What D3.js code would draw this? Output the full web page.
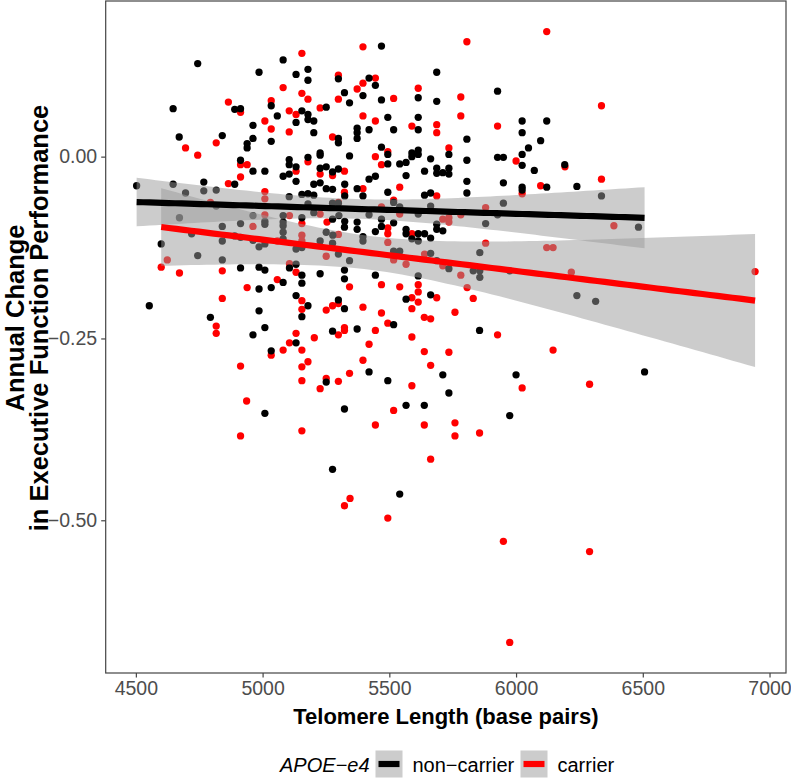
<!DOCTYPE html>
<html><head><meta charset="utf-8">
<script src="https://cdn.jsdelivr.net/npm/d3@7"></script>
<style>body{margin:0;background:#fff} text{font-family:"Liberation Sans",Arial,Helvetica,sans-serif}</style>
</head><body><svg id="c" width="791" height="778"></svg>
<script>
// APOE-e4 non-carriers: [telomere length (bp), annual change]
const nonCarrier = [
[5081,0.133],[4744,0.128],[4986,0.116],[5132,0.113],[5179,0.120],[5179,0.105],[5299,0.107],[5323,0.088],[5034,0.070],[5343,0.074],
[4647,0.066],[4890,0.065],[4913,0.066],[5155,0.063],[5179,0.058],[5179,0.051],[5202,0.049],[5251,0.068],[5058,0.056],[5132,0.047],
[4962,0.043],[5202,0.033],[5299,0.025],[5299,0.019],[4671,0.027],[4841,0.029],[4962,0.025],[4939,0.018],[4939,0.012],[5034,0.021],
[5227,0.005],[5227,0.002],[5343,0.001],[4913,-0.005],[4962,-0.020],[5009,-0.020],[5105,-0.004],[5105,-0.011],[5132,-0.014],[5179,-0.001],
[5081,-0.027],[5105,-0.024],[5132,-0.034],[5227,-0.016],[5251,-0.014],[5276,-0.021],[5299,-0.017],[5202,-0.038],[5227,-0.036],[5251,-0.044],
[5276,-0.045],[4890,-0.038],[4768,-0.035],[4647,-0.038],[4503,-0.040],[4817,-0.046],[4768,-0.047],[4696,-0.050],[5105,-0.055],[5155,-0.052],
[5179,-0.051],[5202,-0.053],[5469,0.152],[5687,0.116],[5420,0.108],[5445,0.098],[5396,0.084],[5469,0.078],[5614,0.081],[5687,0.076],
[5927,0.090],[5494,0.054],[5614,0.054],[5614,0.037],[5373,0.039],[5373,0.033],[5373,0.025],[5420,0.037],[5517,0.037],[5806,0.024],
[6024,0.049],[6121,0.049],[6024,0.033],[6097,0.022],[6049,0.012],[6024,0.003],[5927,-0.001],[5950,-0.001],[6024,-0.012],[6072,-0.019],
[6192,-0.011],[5469,0.013],[5494,0.003],[5494,-0.010],[5541,-0.010],[5566,-0.008],[5589,0.005],[5614,0.009],[5589,0.000],[5614,0.003],
[5663,-0.003],[5735,0.003],[5806,-0.005],[5566,-0.026],[5639,-0.020],[5687,-0.016],[5687,-0.023],[5711,-0.022],[5735,-0.016],[5735,-0.024],
[5420,-0.031],[5445,-0.027],[5324,-0.038],[5324,-0.054],[5373,-0.044],[5396,-0.054],[5494,-0.049],[5639,-0.053],[5663,-0.050],[5806,-0.034],
[5806,-0.050],[5950,-0.036],[6024,-0.042],[6024,-0.046],[6121,-0.042],[6240,-0.041],[6337,-0.054],[4817,-0.068],[4672,-0.084],[4962,-0.081],
[5009,-0.089],[5009,-0.093],[5081,-0.081],[5081,-0.090],[5081,-0.095],[5179,-0.065],[5202,-0.077],[5276,-0.064],[5299,-0.064],[5155,-0.084],
[5276,-0.086],[5323,-0.097],[5081,-0.104],[4841,-0.096],[4720,-0.106],[4841,-0.116],[4890,-0.109],[4913,-0.111],[4962,-0.115],[5009,-0.120],
[4986,-0.124],[5081,-0.113],[5132,-0.127],[5155,-0.125],[5227,-0.116],[5251,-0.104],[5276,-0.119],[5299,-0.134],[5343,-0.143],[4600,-0.120],
[4744,-0.136],[4841,-0.142],[4913,-0.153],[4986,-0.152],[5009,-0.156],[5132,-0.148],[5106,-0.153],[5155,-0.163],[5227,-0.161],[5323,-0.156],
[5323,-0.168],[5081,-0.173],[5155,-0.174],[4986,-0.182],[5034,-0.180],[5132,-0.191],[4553,-0.205],[5179,-0.205],[5155,-0.220],[4986,-0.212],
[5299,-0.197],[5323,-0.209],[4794,-0.221],[5009,-0.235],[4962,-0.245],[5276,-0.240],[5132,-0.256],[5034,-0.267],[5251,-0.310],[5517,-0.063],
[5541,-0.069],[5663,-0.068],[5614,-0.079],[5420,-0.080],[5301,-0.081],[5469,-0.086],[5927,-0.080],[5950,-0.064],[5880,-0.092],[5324,-0.089],
[5373,-0.090],[5373,-0.100],[5445,-0.103],[5469,-0.096],[5517,-0.091],[5566,-0.100],[5566,-0.106],[5614,-0.106],[5639,-0.106],[5589,-0.113],
[5614,-0.116],[5663,-0.112],[5687,-0.093],[5687,-0.100],[5711,-0.102],[5396,-0.110],[5396,-0.116],[5277,-0.108],[5517,-0.130],[5541,-0.130],
[5663,-0.133],[5687,-0.143],[5735,-0.154],[5831,-0.157],[5857,-0.157],[5857,-0.166],[5857,-0.132],[5975,-0.157],[6240,-0.191],[5445,-0.163],
[5614,-0.164],[5566,-0.196],[5663,-0.190],[5517,-0.231],[5373,-0.237],[5856,-0.239],[5420,-0.296],[5711,-0.300],[6000,-0.300],[5494,-0.308],
[5735,-0.325],[6483,-0.097],[6314,-0.199],[6507,-0.296],[5009,-0.353],[5323,-0.347],[5276,-0.430],[5566,-0.342],[5638,-0.342],[5975,-0.356],
[5541,-0.464],[4913,-0.092]
];
// APOE-e4 carriers
const carrier = [
[5155,0.142],[5299,0.112],[5081,0.095],[5155,0.087],[5179,0.079],[5034,0.077],[5299,0.079],[4865,0.075],[4913,0.061],[5105,0.063],
[5132,0.058],[5227,0.067],[5009,0.049],[5034,0.038],[5105,0.034],[5276,0.027],[4817,0.019],[4696,0.012],[4744,0.002],[4913,-0.011],
[4939,-0.011],[5179,-0.007],[5132,-0.020],[5227,-0.024],[5276,-0.026],[5323,-0.020],[5323,-0.049],[4913,-0.028],[4865,-0.037],[5009,-0.048],
[5396,0.151],[5806,0.158],[6121,0.172],[5445,0.108],[5396,0.101],[5373,0.093],[5517,0.080],[5614,0.094],[5782,0.082],[5396,0.056],
[5445,0.049],[5782,0.056],[5589,0.042],[5687,0.044],[5687,0.033],[5927,0.042],[6000,-0.006],[6193,-0.014],[5494,0.007],[5445,0.000],
[5469,-0.011],[5735,0.012],[5396,-0.044],[5541,-0.042],[5687,-0.054],[6024,-0.051],[6097,-0.040],[6337,0.070],[6337,-0.031],[5009,-0.058],
[4794,-0.063],[5009,-0.080],[5106,-0.081],[5227,-0.079],[5299,-0.063],[5155,-0.092],[5254,-0.090],[4962,-0.096],[5058,-0.116],[5155,-0.108],
[5155,-0.116],[5299,-0.107],[5251,-0.137],[4624,-0.142],[4600,-0.152],[4672,-0.160],[4841,-0.157],[5106,-0.147],[5132,-0.159],[5058,-0.169],
[4939,-0.180],[5343,-0.179],[5155,-0.198],[4841,-0.195],[5155,-0.210],[5276,-0.205],[5251,-0.211],[5299,-0.202],[4817,-0.233],[4817,-0.243],
[5323,-0.235],[5323,-0.239],[5299,-0.245],[5204,-0.249],[5132,-0.243],[5106,-0.256],[5081,-0.266],[5155,-0.266],[5034,-0.273],[4913,-0.288],
[5155,-0.289],[5179,-0.282],[5343,-0.298],[5155,-0.308],[5251,-0.305],[5299,-0.309],[5227,-0.319],[5517,-0.060],[5469,-0.069],[5541,-0.079],
[5711,-0.086],[5735,-0.084],[5735,-0.090],[5782,-0.080],[5880,-0.070],[5494,-0.098],[5494,-0.106],[5589,-0.106],[5494,-0.118],[5517,-0.142],
[5566,-0.148],[5639,-0.134],[5711,-0.150],[5782,-0.163],[5880,-0.119],[6121,-0.125],[6146,-0.125],[6218,-0.159],[5469,-0.176],[5541,-0.179],
[5614,-0.176],[5614,-0.186],[5807,-0.180],[5831,-0.195],[5396,-0.207],[5589,-0.194],[5614,-0.200],[5687,-0.194],[5589,-0.209],[5469,-0.215],
[5759,-0.214],[5638,-0.221],[5663,-0.223],[5494,-0.229],[5445,-0.239],[5927,-0.245],[5589,-0.248],[5420,-0.258],[5638,-0.268],[5735,-0.269],
[6146,-0.266],[5396,-0.280],[5663,-0.287],[5589,-0.315],[6024,-0.318],[6386,-0.095],[6943,-0.158],[6290,-0.313],[4937,-0.336],[4913,-0.384],
[5155,-0.377],[5323,-0.480],[5345,-0.470],[5517,-0.349],[5445,-0.369],[5638,-0.369],[5759,-0.366],[5759,-0.384],[5856,-0.380],[5663,-0.416],
[5494,-0.497],[5950,-0.529],[5975,-0.668],[6290,-0.543]
];
const groupNames = ["non\u2212carrier", "carrier"];
const groupColors = ["#000000", "#ff0000"];
const xTicks = [4500, 5000, 5500, 6000, 6500, 7000];
const yTicks = [0, -0.25, -0.5];
const yTickLabels = ["0.00", "\u22120.25", "\u22120.50"];
const xTitle = "Telomere Length (base pairs)";
const yTitle = ["Annual Change", "in Executive Function Performance"];
const legendTitle = "APOE\u2212e4";

const svg = d3.select("#c");
const panel = {l: 105.7, r: 786, t: 1, b: 673};

const all = nonCarrier.concat(carrier);
const xe = d3.extent(all, d => d[0]), ye = d3.extent(all, d => d[1]);
const xp = (xe[1]-xe[0])*0.05, yp = (ye[1]-ye[0])*0.05;
const x = d3.scaleLinear().domain([xe[0]-xp, xe[1]+xp]).range([panel.l, panel.r]);
const y = d3.scaleLinear().domain([ye[0]-yp, ye[1]+yp]).range([panel.b, panel.t]);

// points interleaved (data order)
const pts = [];
const nmax = Math.max(nonCarrier.length, carrier.length);
for (let i = 0; i < nmax; i++) {
  if (i < nonCarrier.length) pts.push({x: nonCarrier[i][0], y: nonCarrier[i][1], g: 0});
  if (i < carrier.length) pts.push({x: carrier[i][0], y: carrier[i][1], g: 1});
}
svg.append("g").selectAll("circle").data(pts).join("circle")
  .attr("cx", d => x(d.x)).attr("cy", d => y(d.y)).attr("r", 3.65)
  .attr("fill", d => groupColors[d.g]);

// linear fit with 95% CI
function fit(data) {
  const n = data.length;
  const mx = d3.mean(data, d => d[0]), my = d3.mean(data, d => d[1]);
  let sxx = 0, sxy = 0;
  data.forEach(d => { sxx += (d[0]-mx)**2; sxy += (d[0]-mx)*(d[1]-my); });
  const b = sxy/sxx, a = my - b*mx;
  let ss = 0; data.forEach(d => { ss += (d[1]-a-b*d[0])**2; });
  const s = Math.sqrt(ss/(n-2)), t = 1.97;
  const [x0, x1] = d3.extent(data, d => d[0]);
  return d3.range(80).map(i => {
    const xv = x0 + (x1-x0)*i/79, yh = a + b*xv;
    const se = s*Math.sqrt(1/n + (xv-mx)**2/sxx);
    return {x: xv, y: yh, lo: yh - t*se, hi: yh + t*se};
  });
}
const fits = [fit(nonCarrier), fit(carrier)];
const area = d3.area().x(d => x(d.x)).y0(d => y(d.lo)).y1(d => y(d.hi));
const line = d3.line().x(d => x(d.x)).y(d => y(d.y));
svg.append("g").selectAll("path").data(fits).join("path")
  .attr("d", area).attr("fill", "#999999").attr("fill-opacity", 0.5);
svg.append("g").selectAll("path").data(fits).join("path")
  .attr("d", line).attr("fill", "none").attr("stroke", (d,i) => groupColors[i])
  .attr("stroke-width", 6.2);

// panel border
svg.append("rect").attr("x", panel.l).attr("y", panel.t)
  .attr("width", panel.r-panel.l).attr("height", panel.b-panel.t)
  .attr("fill", "none").attr("stroke", "#444").attr("stroke-width", 1.2);

// axes
const ax = svg.append("g").attr("transform", `translate(0,${panel.b})`)
  .call(d3.axisBottom(x).tickValues(xTicks).tickFormat(d3.format("d")).tickSize(4.5).tickPadding(4));
const ay = svg.append("g").attr("transform", `translate(${panel.l},0)`)
  .call(d3.axisLeft(y).tickValues(yTicks).tickFormat((d,i) => yTickLabels[i]).tickSize(4.5).tickPadding(4));
[ax, ay].forEach(g => {
  g.select(".domain").remove();
  g.selectAll(".tick line").attr("stroke", "#444").attr("stroke-width", 1.2);
  g.selectAll(".tick text").attr("fill", "#4d4d4d").style("font-size", "19.5px")
   .style("font-family", '"Liberation Sans",Arial,sans-serif');
});

// titles
svg.append("text").attr("x", (panel.l+panel.r)/2).attr("y", 724)
  .attr("text-anchor", "middle").style("font-size", "22px").style("font-weight", "bold")
  .text(xTitle);
const yt = svg.append("text").attr("transform", `translate(23.5,318) rotate(-90)`)
  .attr("text-anchor", "middle").style("font-size", "25.5px").style("font-weight", "bold");
yt.append("tspan").attr("x", 0).attr("y", 0).text(yTitle[0]);
yt.append("tspan").attr("x", 0).attr("y", 24).text(yTitle[1]);

// legend
const lg = svg.append("g");
lg.append("text").attr("x", 280).attr("y", 772).style("font-size", "20px")
  .style("font-style", "italic").text(legendTitle);
const keyX = [375.5, 520.5], labX = [412.5, 557.5];
groupNames.forEach((nm, i) => {
  lg.append("rect").attr("x", keyX[i]).attr("y", 750.5).attr("width", 27).attr("height", 27)
    .attr("fill", "#999999").attr("fill-opacity", 0.5);
  lg.append("line").attr("x1", keyX[i]+3).attr("x2", keyX[i]+24).attr("y1", 764).attr("y2", 764)
    .attr("stroke", groupColors[i]).attr("stroke-width", 6.2);
  lg.append("text").attr("x", labX[i]).attr("y", 772).style("font-size", "20px").text(nm);
});
</script></body></html>
